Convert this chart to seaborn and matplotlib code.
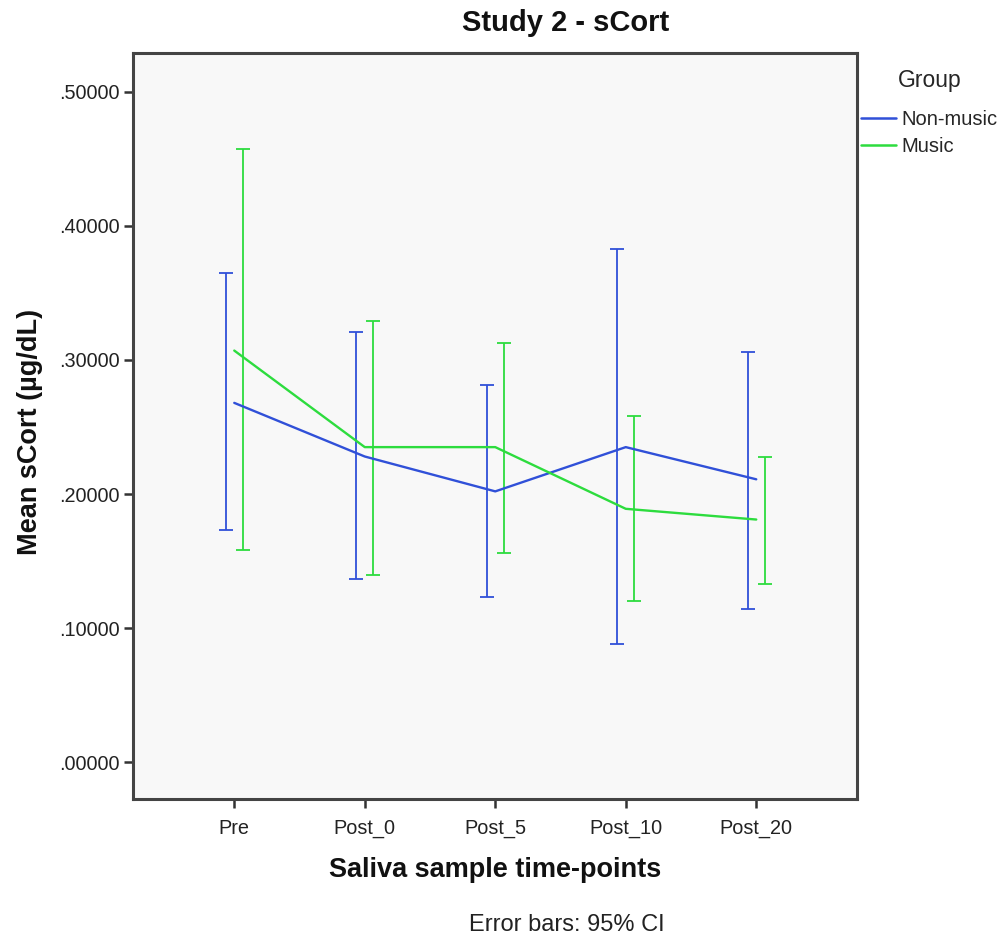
import numpy as np
import pandas as pd
import matplotlib
matplotlib.use("Agg")
import matplotlib.pyplot as plt
import seaborn as sns
from matplotlib.lines import Line2D
from matplotlib.ticker import FuncFormatter

# ---- data ----
time_points = ["Pre", "Post_0", "Post_5", "Post_10", "Post_20"]
groups = ["Non-music", "Music"]
nonmusic_mean = [0.268, 0.228, 0.202, 0.235, 0.211]
nonmusic_lo = [0.173, 0.137, 0.123, 0.088, 0.114]
nonmusic_hi = [0.365, 0.321, 0.281, 0.383, 0.306]
music_mean = [0.307, 0.235, 0.235, 0.189, 0.181]
music_lo = [0.158, 0.140, 0.156, 0.120, 0.133]
music_hi = [0.457, 0.329, 0.313, 0.258, 0.228]
yticks = [0.0, 0.1, 0.2, 0.3, 0.4, 0.5]

rows = []
for g, m, lo, hi in [("Non-music", nonmusic_mean, nonmusic_lo, nonmusic_hi),
                     ("Music", music_mean, music_lo, music_hi)]:
    for i, t in enumerate(time_points):
        rows.append({"idx": i, "time": t, "Group": g, "mean": m[i], "lo": lo[i], "hi": hi[i]})
df = pd.DataFrame(rows)

colors = {"Non-music": "#3050d8", "Music": "#2ddc3e"}
offsets = {"Non-music": -0.064, "Music": 0.064}

sns.set_style("white")
plt.rcParams["font.family"] = ["Liberation Sans", "DejaVu Sans"]

fig = plt.figure(figsize=(10.03, 9.42), dpi=100)
ax = fig.add_axes([133 / 1003, 1 - 799 / 942, (857 - 133) / 1003, (799 - 53) / 942])
ax.set_facecolor("#f8f8f8")

# error bars (dodged)
for g in groups:
    sub = df[df["Group"] == g]
    x = sub["idx"].to_numpy() + offsets[g]
    y = sub["mean"].to_numpy()
    ax.errorbar(x, y, yerr=[y - sub["lo"].to_numpy(), sub["hi"].to_numpy() - y],
                fmt="none", ecolor=colors[g], elinewidth=1.3, capsize=5.2,
                capthick=1.3, zorder=2)

# mean lines
sns.lineplot(data=df, x="idx", y="mean", hue="Group", palette=colors,
             hue_order=groups, errorbar=None, linewidth=1.7, ax=ax,
             legend=False, zorder=3)

ax.set_xlim(-0.776, 4.772)
ax.set_ylim(-0.0274, 0.5289)
ax.set_xticks(range(len(time_points)))
ax.set_xticklabels(time_points)
ax.set_yticks(yticks)
ax.yaxis.set_major_formatter(FuncFormatter(lambda v, p: (f"{v:.5f}")[1:] if v >= 0 else f"{v:.5f}"))

for s in ax.spines.values():
    s.set_color("#444444")
    s.set_linewidth(2.2)
ax.tick_params(axis="both", which="major", bottom=True, left=True, direction="out",
               length=6.5, width=1.8, color="#333333",
               labelsize=14.3, labelcolor="#222222", pad=3)
ax.tick_params(axis="x", pad=8)

ax.set_xlabel("")
ax.set_ylabel("")
fig.text(30 / 1003, 1 - 432 / 942, "Mean sCort (µg/dL)", rotation=90, ha="center",
         va="center", fontsize=19.5, fontweight="bold", color="#111111")
fig.text(495 / 1003, 1 - 870 / 942, "Saliva sample time-points", ha="center",
         va="center", fontsize=19.5, fontweight="bold", color="#111111")
fig.text(567 / 1003, 1 - 925 / 942, "Error bars: 95% CI", ha="center",
         va="center", fontsize=17, color="#222222")
fig.text(566 / 1003, 1 - 23 / 942, "Study 2 - sCort", ha="center",
         va="center", fontsize=21, fontweight="bold", color="#111111")

handles = [Line2D([0], [0], color=colors[g], lw=1.8) for g in groups]
leg = fig.legend(handles, groups, title="Group", loc="upper left",
                 bbox_to_anchor=(861 / 1003, 1 - 69 / 942), frameon=False,
                 fontsize=14.5, title_fontsize=16.5, handlelength=1.75,
                 handletextpad=0.25, labelspacing=0.4, borderaxespad=0,
                 borderpad=0)
leg._legend_box.align = "left"
leg._legend_box.sep = 13
leg.get_title().set_position((37, 0))

fig.savefig("out.png", dpi=100, facecolor="white")
